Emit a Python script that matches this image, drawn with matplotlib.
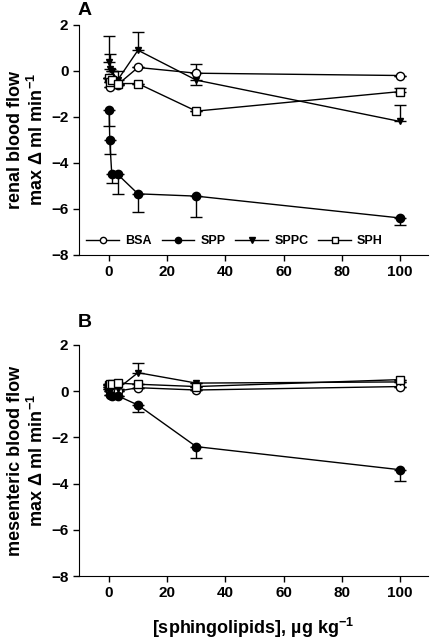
import matplotlib
matplotlib.use('Agg')
import matplotlib.pyplot as plt
import numpy as np

plt.rcParams['font.family'] = ['Liberation Sans', 'DejaVu Sans']
plt.rcParams['font.weight'] = 'bold'
plt.rcParams['mathtext.fontset'] = 'custom'
plt.rcParams['mathtext.rm'] = 'Liberation Sans:bold'
plt.rcParams['mathtext.default'] = 'rm'

# doses (ug/kg)
dose = [0.1, 0.3, 1, 3, 10, 30, 100]

# panel A - renal blood flow
renal_bsa = [-0.3, -0.7, -0.45, -0.6, 0.15, -0.1, -0.2]
renal_bsa_err = [0, 0, 0, 0, 0, 0.4, 0]
renal_spp = [-1.7, -3.0, -4.5, -4.5, -5.35, -5.45, -6.4]
renal_spp_err = [-0.7, -0.6, -0.4, -0.85, -0.8, -0.9, -0.3]
renal_sppc = [0.4, 0.1, 0.0, -0.4, 0.9, -0.4, -2.2]
renal_sppc_err = [1.1, 0.65, 0, 0.4, 0.8, -0.2, 0.7]
renal_sph = [-0.3, -0.5, -0.4, -0.55, -0.55, -1.75, -0.9]
renal_sph_err = [0, 0, 0, 0, 0, 0, 0.15]

# panel B - mesenteric blood flow
mes_bsa = [0.1, 0.0, 0.1, 0.0, 0.15, 0.05, 0.2]
mes_bsa_err = [0, 0, 0, 0, 0, 0, 0]
mes_spp = [0.2, -0.15, -0.2, -0.2, -0.6, -2.4, -3.4]
mes_spp_err = [0, 0, 0, 0, -0.3, -0.5, -0.5]
mes_sppc = [0.3, 0.25, 0.3, 0.1, 0.8, 0.35, 0.4]
mes_sppc_err = [0, 0, 0, 0, 0.4, 0, 0]
mes_sph = [0.25, 0.3, 0.3, 0.35, 0.3, 0.2, 0.5]
mes_sph_err = [0, 0, 0, 0, 0, 0, 0]

labels = ['BSA', 'SPP', 'SPPC', 'SPH']
markers = ['o', 'o', 'v', 's']
faces = ['white', 'black', 'black', 'white']


def draw_panel(ax, series, errs):
    for y, e, lab, m, fc in zip(series, errs, labels, markers, faces):
        y = np.array(y)
        e = np.array(e)
        lower = np.where(e < 0, -e, 0)
        upper = np.where(e > 0, e, 0)
        ax.errorbar(dose, y, yerr=[lower, upper], fmt='none', ecolor='black',
                    elinewidth=1, capsize=4, capthick=1, zorder=1)
        ax.plot(dose, y, color='black', lw=1, marker=m, ms=6 if m != 'v' else 5,
                mfc=fc, mec='black', mew=1, label=lab, zorder=2)
    ax.set_xlim(-10.3, 109.6)
    ax.set_ylim(-8, 2)
    ax.set_xticks([0, 20, 40, 60, 80, 100])
    ax.set_yticks([-8, -6, -4, -2, 0, 2])
    ax.spines['top'].set_visible(False)
    ax.spines['right'].set_visible(False)
    ax.tick_params(direction='out', length=4, width=1, labelsize=11)
    for t in ax.get_xticklabels() + ax.get_yticklabels():
        t.set_fontweight('bold')


fig = plt.figure(figsize=(4.31, 6.4), dpi=100)
ax1 = fig.add_axes([0.183, 0.602, 0.81, 0.359])
ax2 = fig.add_axes([0.183, 0.100, 0.81, 0.361])

draw_panel(ax1, [renal_bsa, renal_spp, renal_sppc, renal_sph],
           [renal_bsa_err, renal_spp_err, renal_sppc_err, renal_sph_err])
draw_panel(ax2, [mes_bsa, mes_spp, mes_sppc, mes_sph],
           [mes_bsa_err, mes_spp_err, mes_sppc_err, mes_sph_err])

ax1.set_ylabel('renal blood flow\nmax \u0394 ml min$^{-1}$', fontsize=13,
               fontweight='bold', labelpad=3)
ax2.set_ylabel('mesenteric blood flow\nmax \u0394 ml min$^{-1}$', fontsize=13,
               fontweight='bold', labelpad=3)
ax2.set_xlabel('[sphingolipids], \u00b5g kg$^{-1}$', fontsize=13,
               fontweight='bold', labelpad=11)

leg = ax1.legend(loc='lower left', ncol=4, frameon=False, fontsize=9,
                 bbox_to_anchor=(0.0, 0.0), handlelength=2.6, columnspacing=0.8,
                 handletextpad=0.5, borderaxespad=0.2, markerscale=0.75)
for t in leg.get_texts():
    t.set_fontweight('bold')

fig.text(0.18, 0.997, 'A', fontsize=14, fontweight='bold', va='top', ha='left')
fig.text(0.18, 0.51, 'B', fontsize=14, fontweight='bold', va='top', ha='left')

fig.savefig('out.png', dpi=100)
